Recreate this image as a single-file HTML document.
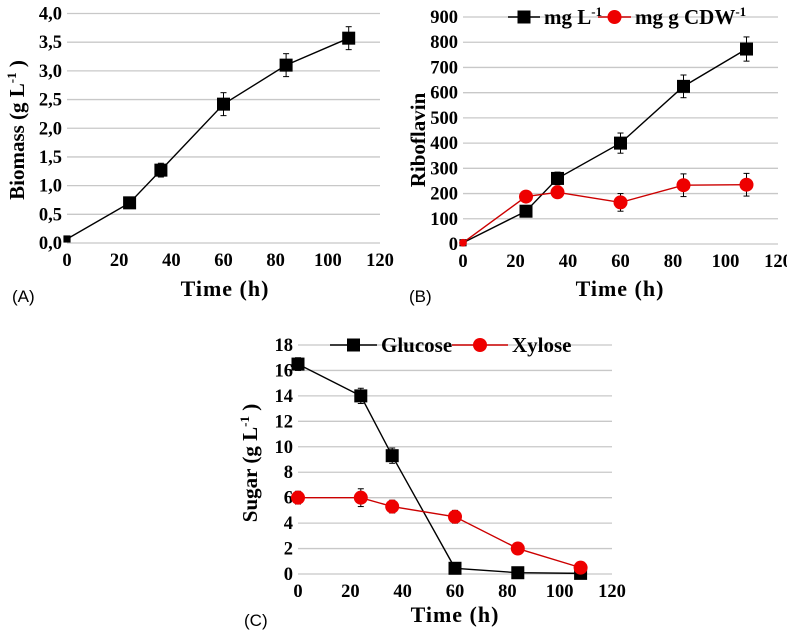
<!DOCTYPE html>
<html><head><meta charset="utf-8"><style>
body{margin:0;background:#fff;width:787px;height:632px;overflow:hidden}
svg{position:absolute;left:0;top:0}
text{font-family:"Liberation Serif",serif;font-weight:bold;fill:#000}
.pl{font-family:"Liberation Sans",sans-serif;font-weight:normal;font-size:17px}
</style></head><body>
<svg id="s" width="787" height="632"></svg>
<script>
const times=[0,24,36,60,84,108];
const biomass=[0.07,0.7,1.27,2.42,3.1,3.57];
const biomassErr=[0.02,0.06,0.12,0.2,0.2,0.2];
const riboL=[5,130,260,400,625,773];
const riboLErr=[0,15,25,40,45,48];
const riboG=[5,188,205,165,233,235];
const riboGErr=[0,15,20,35,45,45];
const glucose=[16.5,14.0,9.3,0.45,0.1,0.05];
const glucoseErr=[0.5,0.6,0.6,0.1,0.1,0.1];
const xylose=[6,6,5.3,4.5,2,0.5];
const xyloseErr=[0.5,0.7,0.5,0.5,0.3,0.3];
const xTicks=[0,20,40,60,80,100,120];
const yTicksA=["0,0","0,5","1,0","1,5","2,0","2,5","3,0","3,5","4,0"];
const yTicksB=[0,100,200,300,400,500,600,700,800,900];
const yTicksC=[0,2,4,6,8,10,12,14,16,18];

const NS="http://www.w3.org/2000/svg";
const svg=document.getElementById('s');
function mk(tag,attrs,parent,txt){const e=document.createElementNS(NS,tag);for(const k in attrs)e.setAttribute(k,attrs[k]);if(txt!==undefined)e.textContent=txt;(parent||svg).appendChild(e);return e;}

function panel(name,x0,x1,y0,y1,ymax,yTickLabels,yTickVals){
  const g=mk('g',{});
  
  
  const sx=v=>x0+(v/120)*(x1-x0);
  const sy=v=>y0-(v/ymax)*(y0-y1);
  yTickVals.forEach((v,i)=>{
    const gl=mk('line',{x1:x0,x2:x1,y1:sy(v),y2:sy(v),stroke:'#c8c8c8','stroke-width':1.3},g);
    
    
    const t=mk('text',{x:x0-5,y:sy(v)+6,'text-anchor':'end','font-size':18.5},g,yTickLabels[i]);
    
    
  });
  xTicks.forEach(v=>{
    const t=mk('text',{x:sx(v),y:y0+23,'text-anchor':'middle','font-size':18.5},g,v);
    
    
  });
  return {g,sx,sy};
}
function series(p,name,vals,errs,color,shape,smallFirst){
  const g=mk('g',{},p.g);
  
  
  const pts=times.map((t,i)=>p.sx(t)+','+p.sy(vals[i])).join(' ');
  mk('polyline',{points:pts,fill:'none',stroke:color==='#e00'?'#c00':'#000','stroke-width':1.4},g);
  times.forEach((t,i)=>{
    const cx=p.sx(t),cy=p.sy(vals[i]),ea=p.sy(vals[i]+errs[i]),eb=p.sy(vals[i]-errs[i]);
    const eg=mk('g',{stroke:'#000','stroke-width':1},g);
    mk('line',{x1:cx,x2:cx,y1:ea,y2:eb},eg);
    mk('line',{x1:cx-3,x2:cx+3,y1:ea,y2:ea},eg);
    mk('line',{x1:cx-3,x2:cx+3,y1:eb,y2:eb},eg);
    const k=(smallFirst&&i===0)?0.55:1;
    let m;
    if(shape==='sq') m=mk('rect',{x:cx-6.5*k,y:cy-6.5*k,width:13*k,height:13*k,fill:'#000'},g);
    else m=mk('circle',{cx:cx,cy:cy,r:7*k,fill:'#e00'},g);
    
    
  });
}
function legend(x,y,len,label,shape,sup){
  const g=mk('g',{});
  
  
  mk('line',{x1:x,x2:x+len,y1:y,y2:y,stroke:shape==='sq'?'#000':'#c00','stroke-width':1.4},g);
  if(shape==='sq') mk('rect',{x:x+len/2-6.5,y:y-6.5,width:13,height:13,fill:'#000'},g);
  else mk('circle',{cx:x+len/2,cy:y,r:7,fill:'#e00'},g);
  const t=mk('text',{x:x+len+4,y:y+7,'font-size':21},g,label);
  if(sup){mk('tspan',{dy:-8,'font-size':13},t,sup);}
}
function ytitle(x,y,label,sup,name){
  const t=mk('text',{x:0,y:0,'text-anchor':'middle','font-size':21,transform:`translate(${x},${y}) rotate(-90)`},svg,label);
  
  
  if(sup){mk('tspan',{dy:-8,'font-size':13},t,sup);mk('tspan',{dy:8},t,' )');}
}
function txt(x,y,s,name,cls,anchor){
  const t=mk('text',{x:x,y:y,'font-size':22,'text-anchor':anchor||'middle','letter-spacing':'1'},svg,s);
  if(cls){t.setAttribute('class',cls);t.setAttribute('letter-spacing','0');}
  
  
}

// Panel A
const pA=panel('panel-a-biomass',67,380,243,13.5,4.0,yTicksA,[0,0.5,1,1.5,2,2.5,3,3.5,4]);
series(pA,'biomass-series',biomass,biomassErr,'#000','sq',true);
ytitle(24,130,'Biomass (g L','-1','y-axis-title-a');
txt(225,296,'Time (h)','x-axis-title-a');
txt(12,302,'(A)','panel-label-a','pl','start');

// Panel B
const pB=panel('panel-b-riboflavin',463,778,244,17,900,yTicksB,yTicksB);
series(pB,'riboflavin-mg-per-l',riboL,riboLErr,'#000','sq',true);
series(pB,'riboflavin-mg-per-g-cdw',riboG,riboGErr,'#e00','circ',true);
legend(508,17,32,'mg L','sq','-1');
legend(598,17,33,'mg g CDW','circ','-1');
ytitle(425,140,'Riboflavin',null,'y-axis-title-b');
txt(620,296,'Time (h)','x-axis-title-b');
txt(409,302,'(B)','panel-label-b','pl','start');

// Panel C
const pC=panel('panel-c-sugar',298,612,574,345,18,yTicksC,yTicksC);
series(pC,'glucose-series',glucose,glucoseErr,'#000','sq',false);
series(pC,'xylose-series',xylose,xyloseErr,'#e00','circ',false);
legend(330,345,47,'Glucose','sq');
legend(452,345,56,'Xylose','circ');
ytitle(257,463,'Sugar (g L','-1','y-axis-title-c');
txt(455,622,'Time (h)','x-axis-title-c');
txt(244,626,'(C)','panel-label-c','pl','start');
</script>
</body></html>
